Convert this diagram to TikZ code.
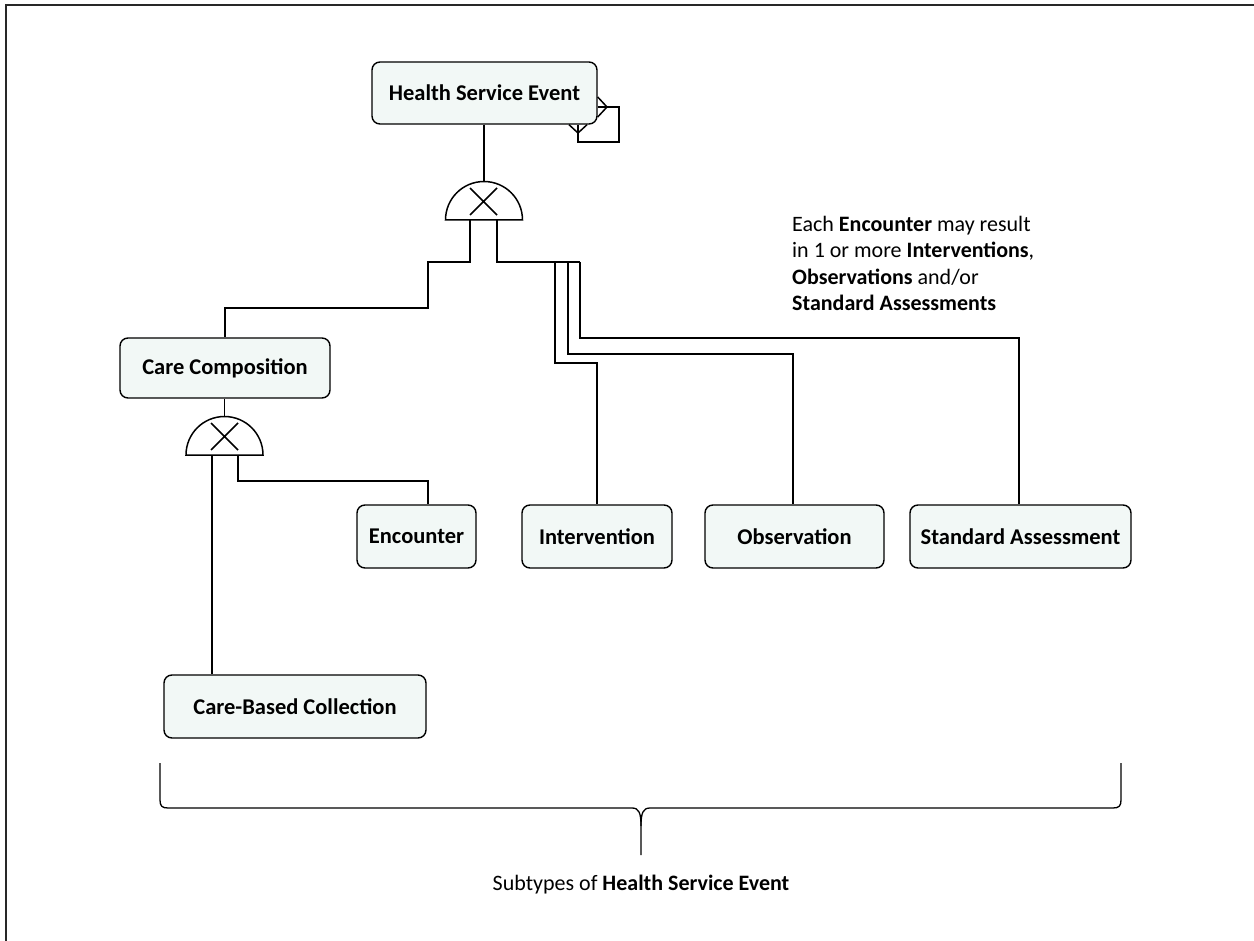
\documentclass[tikz,border=0pt]{standalone}
\usepackage{fontspec}
\setmainfont{Carlito}
\definecolor{boxfill}{RGB}{242,248,246}
\definecolor{framegray}{RGB}{40,40,40}
\tikzset{
  entity/.style={draw, line width=1.4pt, rounded corners=8pt, fill=boxfill,
    font=\fontsize{22.5}{26}\selectfont\bfseries, inner sep=0pt, minimum height=62pt},
  link/.style={line width=1.5pt},
  gate/.style={line width=1.5pt}
}
\begin{document}
\begin{tikzpicture}[x=1pt, y=-1pt]
\useasboundingbox (0,0) rectangle (1254,941);
% outer frame (top and left edges)
\draw[framegray, line width=1.6pt] (6,941) -- (6,5) -- (1254,5);

% entities
\node[entity, minimum width=225pt] (hse) at (484.5,93) {Health Service Event};
\node[entity, minimum width=210pt, minimum height=60pt] (cc) at (225,368) {Care Composition};
\node[entity, minimum width=119pt, minimum height=63pt] (enc) at (416.5,536.5) {Encounter};
\node[entity, minimum width=150pt, minimum height=63pt] (int) at (597,536.5) {Intervention};
\node[entity, minimum width=179pt, minimum height=63pt] (obs) at (794.5,536.5) {Observation};
\node[entity, minimum width=221pt, minimum height=63pt] (sa) at (1020.5,536.5) {Standard Assessment};
\node[entity, minimum width=262pt, minimum height=63pt] (cbc) at (295,706.5) {Care-Based Collection};

% self relationship on Health Service Event
\coordinate (loopA) at (619,107);
\coordinate (loopB) at (619,142);
\coordinate (loopC) at (578,142);
\draw[link] (hse.east |- loopA) -- (loopA) -- (loopB) -- (loopC) -- (loopC |- hse.south);
\draw[link] (hse.east |- 0,97) -- (607,107) -- (hse.east |- 0,117);
\draw[link] (569,0 |- hse.south) -- (578,133) -- (587,0 |- hse.south);

% exclusive subtype gate under Health Service Event
\coordinate (g1) at (484,220);
\coordinate (g1top) at (484,181.5);
\coordinate (g1l) at (470,220);
\coordinate (g1r) at (497,220);
\draw[gate] (g1) ++(-38.5,0) arc[start angle=180, end angle=360, radius=38.5] -- cycle;
\draw[gate] (470,188) -- (497,215) (497,188) -- (470,215);
\draw[link] (hse.south -| g1top) -- (g1top);

% exclusive subtype gate under Care Composition
\coordinate (g2) at (224.5,455);
\coordinate (g2top) at (224.5,416.5);
\coordinate (g2l) at (212,455);
\coordinate (g2r) at (238,455);
\draw[gate] (g2) ++(-38.5,0) arc[start angle=180, end angle=360, radius=38.5] -- cycle;
\draw[gate] (211,423) -- (238,450) (238,423) -- (211,450);
\draw[link] (cc.south -| g2top) -- (g2top);

% subtype connectors
\draw[link] (g1l) -- (470,262) -- (428,262) -- (428,308) -- (cc.north |- 0,308) -- (cc.north);
\draw[link] (g1r) -- (497,262) -- (580,262);
\draw[link] (555,262) -- (555,363) -- (int.north |- 0,363) -- (int.north);
\draw[link] (568,262) -- (568,354) -- (793,354) -- (793,0 |- obs.north);
\draw[link] (580,262) -- (580,338) -- (1019,338) -- (1019,0 |- sa.north);
\draw[link] (g2l) -- (g2l |- cbc.north);
\draw[link] (g2r) -- (238,481) -- (428,481) -- (428,0 |- enc.north);

% note
\node[anchor=north west, align=left, inner sep=0pt,
  font=\fontsize{22}{26.3}\selectfont] (note) at (792,216)
  {Each \textbf{Encounter} may result\\
   in 1 or more \textbf{Interventions},\\
   \textbf{Observations} and/or\\
   \textbf{Standard Assessments}};

% brace grouping the subtypes
\draw[line width=1.3pt]
  (160,763) -- (160,800) .. controls (160,806) and (162,808) .. (168,808)
  -- (632,808) .. controls (639,808) and (641,813) .. (641,826) -- (641,855);
\draw[line width=1.3pt]
  (1121,763) -- (1121,800) .. controls (1121,806) and (1119,808) .. (1113,808)
  -- (650,808) .. controls (643,808) and (641,813) .. (641,826);
\node[font=\fontsize{22}{26}\selectfont] (caption) at (641,885)
  {Subtypes of \textbf{Health Service Event}};
\end{tikzpicture}
\end{document}
